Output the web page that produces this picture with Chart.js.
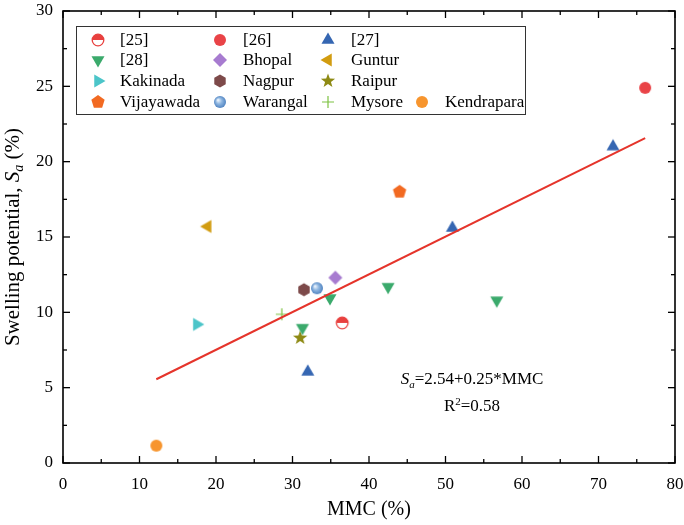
<!DOCTYPE html>
<html><head><meta charset="utf-8">
<script src="https://cdn.jsdelivr.net/npm/chart.js@4"></script>
<style>html,body{margin:0;padding:0;background:#fff}</style>
</head><body>
<canvas id="c" width="684" height="525"></canvas>
<script>
// ---- data ----
const seriesNames = ['[25]','[26]','[27]','[28]','Bhopal','Guntur','Kakinada','Nagpur','Raipur','Vijayawada','Warangal','Mysore','Kendrapara'];
const mmc25 = [36.5];               const sa25 = [9.3];
const mmc26 = [76.1];               const sa26 = [24.9];
const mmc27 = [71.9, 50.9, 32.0];   const sa27 = [21.0, 15.6, 6.05];
const mmc28 = [34.9, 31.3, 42.5, 56.7]; const sa28 = [10.95, 8.98, 11.7, 10.8];
const mmcBhopal = [35.6];     const saBhopal = [12.3];
const mmcGuntur = [18.9];     const saGuntur = [15.7];
const mmcKakinada = [17.5];   const saKakinada = [9.2];
const mmcNagpur = [31.5];     const saNagpur = [11.5];
const mmcRaipur = [31.0];     const saRaipur = [8.3];
const mmcVijayawada = [44.0]; const saVijayawada = [18.0];
const mmcWarangal = [33.2];   const saWarangal = [11.6];
const mmcMysore = [28.6];     const saMysore = [9.87];
const mmcKendrapara = [12.2]; const saKendrapara = [1.15];
const fitMMC = [12.2, 76.1];  const fitSa = [5.56, 21.56];
const xTicks = [0,10,20,30,40,50,60,70,80];
const yTicks = [0,5,10,15,20,25,30];

const FONT = "'Liberation Serif','Times New Roman',serif";

// ---- marker images ----
function mk(draw, size){ size=size||18; const c=document.createElement('canvas'); c.width=size; c.height=size; const g=c.getContext('2d'); g.translate(size/2,size/2); draw(g); return c; }
function poly(g,n,r,rot,color){ g.beginPath(); for(let i=0;i<n;i++){const a=rot+i*2*Math.PI/n; const px=r*Math.cos(a), py=r*Math.sin(a); i?g.lineTo(px,py):g.moveTo(px,py);} g.closePath(); g.fillStyle=color; g.fill(); }
const markers = [
  mk(g=>{ g.beginPath(); g.arc(0,0,5.8,0,2*Math.PI); g.fillStyle='#fff'; g.fill(); g.beginPath(); g.arc(0,0,5.8,Math.PI,2*Math.PI); g.closePath(); g.fillStyle='#E8403E'; g.fill(); g.beginPath(); g.arc(0,0,5.8,0,2*Math.PI); g.lineWidth=1.3; g.strokeStyle='#E8403E'; g.stroke(); }),
  mk(g=>{ g.beginPath(); g.arc(0,0,6,0,2*Math.PI); g.fillStyle='#E94347'; g.fill(); }),
  mk(g=>poly(g,3,7.5,-Math.PI/2,'#3566B2')),
  mk(g=>poly(g,3,7.5,Math.PI/2,'#3BAA6C')),
  mk(g=>poly(g,4,7,0,'#A77BD0')),
  mk(g=>poly(g,3,7.5,Math.PI,'#D29C10')),
  mk(g=>poly(g,3,7.5,0,'#4CC5C9')),
  mk(g=>poly(g,6,6.6,Math.PI/6,'#7D4A4A')),
  mk(g=>{ g.beginPath(); for(let i=0;i<10;i++){const r=i%2?3.1:7.5; const a=-Math.PI/2+i*Math.PI/5; i?g.lineTo(r*Math.cos(a),r*Math.sin(a)):g.moveTo(r*Math.cos(a),r*Math.sin(a));} g.closePath(); g.fillStyle='#8E8A14'; g.fill(); }),
  mk(g=>poly(g,5,7,-Math.PI/2,'#F26A22')),
  mk(g=>{ const gr=g.createRadialGradient(-2,-2,0.5,0,0,6.2); gr.addColorStop(0,'#E8F1FB'); gr.addColorStop(0.45,'#8DB5E0'); gr.addColorStop(1,'#4F82C0'); g.beginPath(); g.arc(0,0,6,0,2*Math.PI); g.fillStyle=gr; g.fill(); }),
  mk(g=>{ g.strokeStyle='#7DC242'; g.lineWidth=1.2; g.beginPath(); g.moveTo(-6,0); g.lineTo(6,0); g.moveTo(0,-6); g.lineTo(0,6); g.stroke(); }),
  mk(g=>{ g.beginPath(); g.arc(0,0,6,0,2*Math.PI); g.fillStyle='#F7952E'; g.fill(); })
];
const xs = [mmc25,mmc26,mmc27,mmc28,mmcBhopal,mmcGuntur,mmcKakinada,mmcNagpur,mmcRaipur,mmcVijayawada,mmcWarangal,mmcMysore,mmcKendrapara];
const ys = [sa25,sa26,sa27,sa28,saBhopal,saGuntur,saKakinada,saNagpur,saRaipur,saVijayawada,saWarangal,saMysore,saKendrapara];

const datasets = seriesNames.map((n,i)=>({
  label:n, data: xs[i].map((x,j)=>({x:x,y:ys[i][j]})),
  pointStyle: markers[i], pointRadius:7, order:1
}));
datasets.push({type:'line', label:'fit', data: fitMMC.map((x,j)=>({x:x,y:fitSa[j]})),
  borderColor:'#E5342B', borderWidth:2, pointRadius:0, fill:false, order:0});

function richText(ctx, parts, x, y, align){
  let w=0; const meas=[];
  parts.forEach(p=>{ ctx.font = fontFor(p[1]); const m=ctx.measureText(p[0]).width; meas.push(m); w+=m; });
  let cx = align==='center'? x-w/2 : x;
  parts.forEach((p,i)=>{ ctx.font=fontFor(p[1]); let dy=0; if(p[1]==='sub') dy=4; if(p[1]==='sup') dy=-6; ctx.fillText(p[0],cx,y+dy); cx+=meas[i]; });
}
let baseSize=17;
function fontFor(s){ if(s==='i') return 'italic '+baseSize+'px '+FONT; if(s==='sub') return 'italic '+Math.round(baseSize*0.65)+'px '+FONT; if(s==='sup') return Math.round(baseSize*0.65)+'px '+FONT; return baseSize+'px '+FONT; }

const deco = {
  id:'deco',
  afterDraw(chart){
    const {ctx, chartArea:a, scales:{x,y}} = chart;
    ctx.save();
    ctx.strokeStyle='#000'; ctx.lineWidth=1.6;
    ctx.strokeRect(a.left,a.top,a.right-a.left,a.bottom-a.top);
    ctx.lineWidth=1.3;
    const ln=(x1,y1,x2,y2)=>{ctx.beginPath();ctx.moveTo(x1,y1);ctx.lineTo(x2,y2);ctx.stroke();};
    xTicks.forEach((v,i)=>{ const p=x.getPixelForValue(v); ln(p,a.bottom,p,a.bottom-7); ln(p,a.top,p,a.top+7);
      if(i<xTicks.length-1){ const m=x.getPixelForValue((v+xTicks[i+1])/2); ln(m,a.bottom,m,a.bottom-4); ln(m,a.top,m,a.top+4);} });
    yTicks.forEach((v,i)=>{ const p=y.getPixelForValue(v); ln(a.left,p,a.left+7,p); ln(a.right,p,a.right-7,p);
      if(i<yTicks.length-1){ const m=y.getPixelForValue((v+yTicks[i+1])/2); ln(a.left,m,a.left+4,m); ln(a.right,m,a.right-4,m);} });
    // legend
    ctx.fillStyle='#fff'; ctx.fillRect(76,26,449,88);
    ctx.strokeStyle='#333'; ctx.lineWidth=1; ctx.strokeRect(76.5,26.5,449,88);
    const colM=[98,220,328,422], colT=[120,243,351,445], rowY=[40,60,81,102];
    ctx.fillStyle='#000'; ctx.font='17px '+FONT; ctx.textBaseline='middle'; ctx.textAlign='left';
    seriesNames.forEach((n,i)=>{ const r=Math.min(Math.floor(i/3),3); const c= i===12?3:i%3;
      const img=markers[i]; ctx.drawImage(img, colM[c]-img.width/2, rowY[r]-img.height/2);
      ctx.fillText(n, colT[c], rowY[r]+1); });
    // equation
    ctx.textBaseline='alphabetic'; baseSize=17;
    richText(ctx, [['S','i'],['a','sub'],['=2.54+0.25*MMC','n']], 472, 384, 'center');
    richText(ctx, [['R','n'],['2','sup'],['=0.58','n']], 472, 411, 'center');
    // axis titles
    baseSize=20;
    ctx.textAlign='left';
    richText(ctx, [['MMC (%)','n']], 369, 515, 'center');
    baseSize=21;
    ctx.translate(19,237); ctx.rotate(-Math.PI/2);
    richText(ctx, [['Swelling potential, ','n'],['S','i'],['a','sub'],[' (%)','n']], 0, 0, 'center');
    ctx.restore();
  }
};

new Chart(document.getElementById('c').getContext('2d'), {
  type:'scatter',
  data:{datasets},
  options:{
    responsive:false, animation:false,
    layout:{padding:{top:11,right:9,left:0,bottom:0}, autoPadding:false},
    plugins:{legend:{display:false}, tooltip:{enabled:false}},
    scales:{
      x:{type:'linear', min:0, max:80,
        afterBuildTicks:s=>{ s.ticks = xTicks.map(v=>({value:v})); },
        afterFit:s=>{ s.height=62; s.paddingLeft=0; s.paddingRight=0; },
        grid:{display:false, drawTicks:false}, border:{display:false},
        ticks:{font:{family:FONT,size:17}, color:'#000', padding:11, maxRotation:0, autoSkip:false}},
      y:{type:'linear', min:0, max:30,
        afterBuildTicks:s=>{ s.ticks = yTicks.map(v=>({value:v})); },
        afterFit:s=>{ s.width=63; s.paddingTop=0; s.paddingBottom=0; },
        grid:{display:false, drawTicks:false}, border:{display:false},
        ticks:{font:{family:FONT,size:17}, color:'#000', padding:10, autoSkip:false}}
    }
  },
  plugins:[deco]
});
</script>
</body></html>
